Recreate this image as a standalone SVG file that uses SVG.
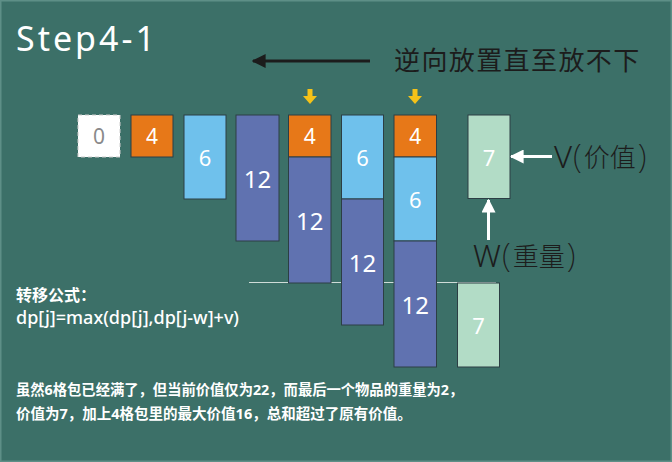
<svg xmlns="http://www.w3.org/2000/svg" width="672" height="462" viewBox="0 0 672 462">
<defs>
<style>
.t{font-family:"Noto Sans","Noto Sans CJK SC",sans-serif}
.box{stroke:#2c3e44;stroke-width:1}
.or{fill:#e77818}
.lb{fill:#6fc1ec}
.pu{fill:#6072b0}
.gr{fill:#b2dcc6}
.num{font-family:"Noto Sans",sans-serif;fill:#ffffff;text-anchor:middle;dominant-baseline:central}
.wh{fill:#ffffff}
.dk{fill:#1c1c1c}
</style>
<marker id="ahk" viewBox="0 0 10 10" refX="9" refY="5" markerWidth="14" markerHeight="14" markerUnits="userSpaceOnUse" orient="auto"><path d="M0,0 L10,5 L0,10 z" fill="#1c1c1c"/></marker>
<marker id="ahw" viewBox="0 0 10 10" refX="9" refY="5" markerWidth="14" markerHeight="14" markerUnits="userSpaceOnUse" orient="auto"><path d="M0,0 L10,5 L0,10 z" fill="#ffffff"/></marker>
</defs>
<rect x="0" y="0" width="672" height="462" fill="#3c7068"/>
<rect x="0.75" y="0.75" width="670.5" height="460.5" fill="none" stroke="#5e8f87" stroke-width="1.5"/>

<text class="t wh" x="16" y="51" font-size="34" letter-spacing="3">Step4-1</text>
<text class="t dk" x="394" y="70" font-size="26" letter-spacing="1.4">逆向放置直至放不下</text>

<g id="connectors">
<line x1="370" y1="61" x2="253" y2="61" stroke="#1c1c1c" stroke-width="3" marker-end="url(#ahk)"/>
<line x1="552" y1="156.5" x2="511" y2="156.5" stroke="#ffffff" stroke-width="3" marker-end="url(#ahw)"/>
<line x1="488.5" y1="240" x2="488.5" y2="200" stroke="#ffffff" stroke-width="3" marker-end="url(#ahw)"/>
<line x1="249" y1="282.5" x2="496" y2="282.5" stroke="#cfdcd8" stroke-width="1.2"/>
<path d="M307.5,89 h5 v7 h4.5 l-7,8 l-7,-8 h4.5 z" fill="#f5c218"/>
<path d="M412.5,89 h5 v7 h4.5 l-7,8 l-7,-8 h4.5 z" fill="#f5c218"/>
</g>

<g id="box0">
<rect x="78" y="115" width="42" height="42" fill="#ffffff" stroke="#cccccc" stroke-width="1" stroke-dasharray="4,3"/>
<text class="num" x="99" y="136" font-size="21" style="fill:#8a8a8a">0</text>
</g>
<g id="box4">
<rect class="box or" x="131" y="115" width="42" height="42"/>
<text class="num" x="152" y="136" font-size="21">4</text>
</g>
<g id="box6">
<rect class="box lb" x="184" y="115" width="42" height="84"/>
<text class="num" x="205" y="157" font-size="22">6</text>
</g>
<g id="box12">
<rect class="box pu" x="236" y="115" width="43" height="126"/>
<text class="num" x="257.5" y="178" font-size="24">12</text>
</g>
<g id="col5">
<rect class="box or" x="288.5" y="115" width="42.5" height="42"/>
<rect class="box pu" x="288.5" y="157" width="42.5" height="126"/>
<text class="num" x="309.7" y="136" font-size="21">4</text>
<text class="num" x="309.7" y="220" font-size="24">12</text>
</g>
<g id="col6">
<rect class="box lb" x="341.5" y="115" width="42" height="84"/>
<rect class="box pu" x="341.5" y="199" width="42" height="126"/>
<text class="num" x="362.5" y="157" font-size="22">6</text>
<text class="num" x="362.5" y="262" font-size="24">12</text>
</g>
<g id="col7">
<rect class="box or" x="394" y="115" width="42.5" height="42"/>
<rect class="box lb" x="394" y="157" width="42.5" height="84"/>
<rect class="box pu" x="394" y="241" width="42.5" height="126"/>
<text class="num" x="415.2" y="136" font-size="21">4</text>
<text class="num" x="415.2" y="199" font-size="22">6</text>
<text class="num" x="415.2" y="304" font-size="24">12</text>
</g>
<g id="item7">
<rect class="box gr" x="468" y="115" width="42" height="83.5"/>
<text class="num" x="489" y="157" font-size="22">7</text>
</g>
<g id="item7b">
<rect class="box gr" x="457.5" y="283" width="42" height="84"/>
<text class="num" x="478.5" y="325" font-size="22">7</text>
</g>

<g id="labels">
<text class="t dk" x="554" y="168" font-size="31" font-weight="300">V<tspan font-size="33" font-weight="200" dx="1">(</tspan><tspan font-size="26" dx="2" dy="-1">价值</tspan><tspan font-size="33" font-weight="200" dx="2" dy="1">)</tspan></text>
<text class="t dk" x="473" y="267" font-size="31" font-weight="300">W<tspan font-size="33" font-weight="200" dx="1">(</tspan><tspan font-size="26" dx="2" dy="-1">重量</tspan><tspan font-size="33" font-weight="200" dx="2" dy="1">)</tspan></text>
</g>

<text class="t wh" x="16" y="301" font-size="16" font-weight="bold">转移公式：</text>
<text class="t wh" x="16" y="324" font-size="18" font-weight="500">dp[j]=max(dp[j],dp[j-w]+v)</text>
<text class="t wh" x="16" y="395" font-size="14.3" font-weight="bold">虽然6格包已经满了，但当前价值仅为22，而最后一个物品的重量为2，</text>
<text class="t wh" x="16" y="419" font-size="14.5" font-weight="bold">价值为7，加上4格包里的最大价值16，总和超过了原有价值。</text>
</svg>
